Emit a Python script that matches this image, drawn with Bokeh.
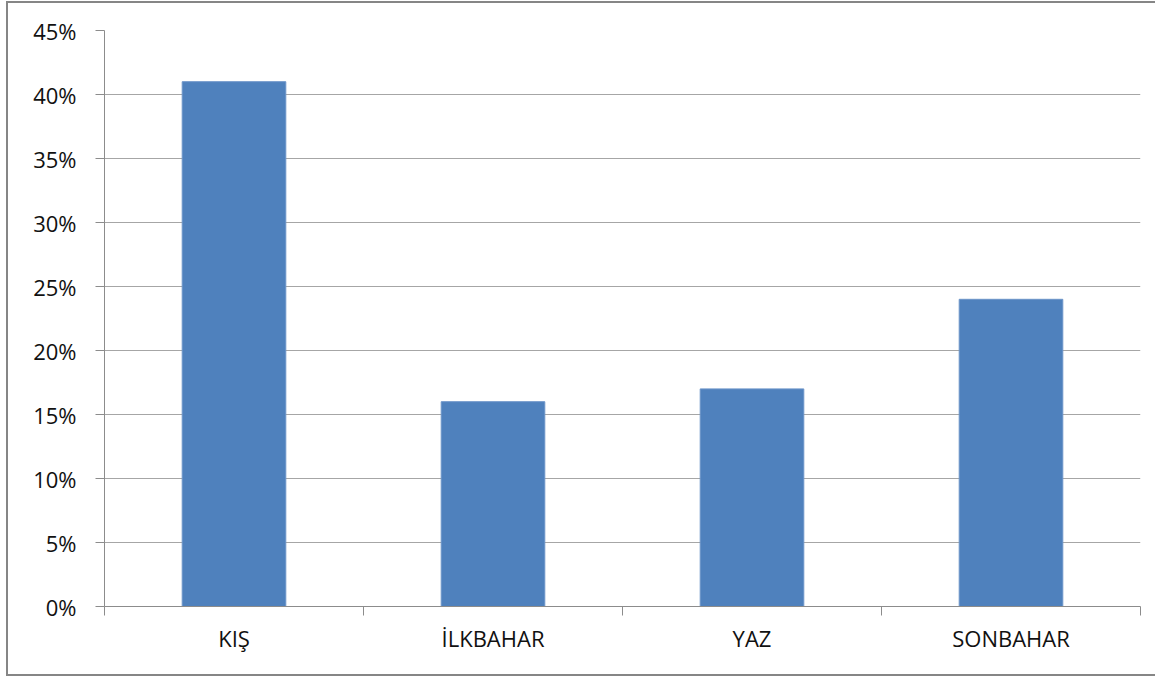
from bokeh.plotting import figure
from bokeh.models import FixedTicker, NumeralTickFormatter, Range1d, ColumnDataSource
from bokeh.embed import file_html
from bokeh.resources import INLINE

# Share of cases per season
seasons = ["KIŞ", "İLKBAHAR", "YAZ", "SONBAHAR"]
shares = [0.41, 0.16, 0.17, 0.24]
y_ticks = [0.0, 0.05, 0.10, 0.15, 0.20, 0.25, 0.30, 0.35, 0.40, 0.45]

centers = [i + 0.5 for i in range(len(seasons))]
source = ColumnDataSource(dict(x=centers, top=shares, season=seasons))

FONT = "Open Sans"
GRID = "#A6A6A6"
AXIS = "#8C8C8C"
TEXT = "#111111"

p = figure(
    width=1149, height=675,
    output_backend="svg", toolbar_location=None,
    x_range=Range1d(0, len(seasons)), y_range=Range1d(0, 0.45),
    min_border_left=96, min_border_right=17, min_border_top=27, min_border_bottom=72,
)
p.margin = (1, 0, 0, 6)
p.styles = {
    "box-sizing": "border-box",
    "border-left": "2px solid #868686",
    "border-top": "2px solid #868686",
    "border-bottom": "2px solid #868686",
}
p.outline_line_color = None
p.background_fill_color = "white"
p.border_fill_color = "white"

p.vbar(x="x", top="top", width=0.4, bottom=0, source=source,
       fill_color="#4F81BD", line_color="#6C94C9", line_width=1)

# y axis
p.yaxis.ticker = FixedTicker(ticks=y_ticks, minor_ticks=[])
p.yaxis.formatter = NumeralTickFormatter(format="0%")
p.yaxis.axis_line_color = AXIS
p.yaxis.major_tick_line_color = AXIS
p.yaxis.major_tick_out = 9
p.yaxis.major_tick_in = 0
p.yaxis.minor_tick_line_color = None
p.yaxis.major_label_text_font = FONT
p.yaxis.major_label_text_font_size = "22px"
p.yaxis.major_label_text_color = TEXT
p.yaxis.major_label_standoff = 19

# x axis: labels at bar centres, tick marks on category boundaries
p.xaxis.ticker = FixedTicker(ticks=centers, minor_ticks=list(range(len(seasons) + 1)))
p.xaxis.major_label_overrides = {c: s for c, s in zip(centers, seasons)}
p.xaxis.axis_line_color = AXIS
p.xaxis.major_tick_line_color = None
p.xaxis.minor_tick_line_color = AXIS
p.xaxis.minor_tick_out = 9
p.xaxis.minor_tick_in = 0
p.xaxis.major_label_text_font = FONT
p.xaxis.major_label_text_font_size = "22px"
p.xaxis.major_label_text_color = TEXT
p.xaxis.major_label_standoff = 7

p.xgrid.visible = False
p.ygrid.grid_line_color = GRID
p.ygrid.grid_line_width = 1

open("out.html", "w").write(file_html(p, INLINE))
